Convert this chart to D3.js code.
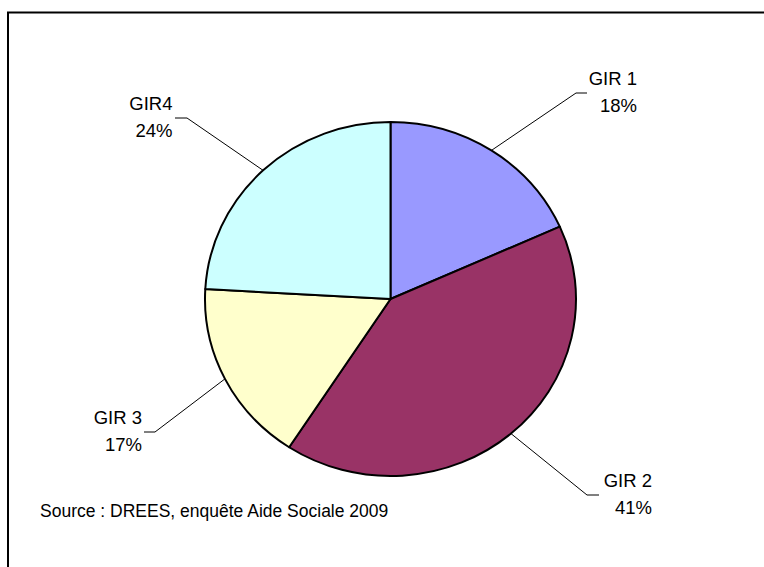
<!DOCTYPE html>
<html>
<head>
<meta charset="utf-8">
<script src="https://cdn.jsdelivr.net/npm/d3@7"></script>
<style>
  html, body { margin: 0; padding: 0; background: #fff; }
  svg { display: block; }
  text { font-family: "Liberation Sans", Arial, sans-serif; fill: #000; }
</style>
</head>
<body>
<svg id="chart" width="764" height="567"></svg>
<script>
// Data
const categories = ["GIR 1", "GIR 2", "GIR 3", "GIR4"];
const values = [18.3, 40.9, 16.7, 24.1];
const percentLabels = ["18%", "41%", "17%", "24%"];
const colors = ["#9999FF", "#993366", "#FFFFCC", "#CCFFFF"];
const sourceText = "Source : DREES, enquête Aide Sociale 2009";

// Layout
const W = 764, H = 567;
const cx = 390.5, cy = 299, rx = 185.5, ry = 177;
// label stubs: [stubInnerX, stubOuterX, stubY, textRightX]
const labelLayout = [
  {x1: 576, x2: 587, y: 93,  tx: 637},
  {x1: 587, x2: 599, y: 495, tx: 652},
  {x1: 155, x2: 144, y: 432, tx: 142},
  {x1: 187, x2: 175, y: 118, tx: 172.5}
];

const svg = d3.select("#chart");

// Frame
svg.append("rect")
  .attr("x", 8).attr("y", 12.5)
  .attr("width", W + 50).attr("height", H + 50)
  .attr("fill", "#fff").attr("stroke", "#000").attr("stroke-width", 2);

const pie = d3.pie().sort(null).value(d => d)(values);
const arc = d3.arc().innerRadius(0).outerRadius(ry);

const g = svg.append("g")
  .attr("transform", `translate(${cx},${cy}) scale(${rx / ry},1)`);

g.selectAll("path")
  .data(pie)
  .join("path")
  .attr("d", arc)
  .attr("fill", (d, i) => colors[i])
  .attr("stroke", "#000")
  .attr("stroke-width", 2)
  .attr("stroke-linejoin", "round")
  .attr("vector-effect", "non-scaling-stroke");

// Leaders and labels
pie.forEach((d, i) => {
  const a = (d.startAngle + d.endAngle) / 2;
  const px = cx + rx * Math.sin(a);
  const py = cy - ry * Math.cos(a);
  const L = labelLayout[i];
  svg.append("polyline")
    .attr("points", `${px},${py} ${L.x1},${L.y} ${L.x2},${L.y}`)
    .attr("fill", "none")
    .attr("stroke", "#000")
    .attr("stroke-width", 1);
  const t = svg.append("text")
    .attr("text-anchor", "end")
    .attr("font-size", 18.5);
  t.append("tspan").attr("x", L.tx).attr("y", L.y - 8.5).text(categories[i]);
  t.append("tspan").attr("x", L.tx).attr("y", L.y + 19).text(percentLabels[i]);
});

// Source
svg.append("text")
  .attr("x", 40).attr("y", 517)
  .attr("font-size", 17.5)
  .text(sourceText);
</script>
</body>
</html>
